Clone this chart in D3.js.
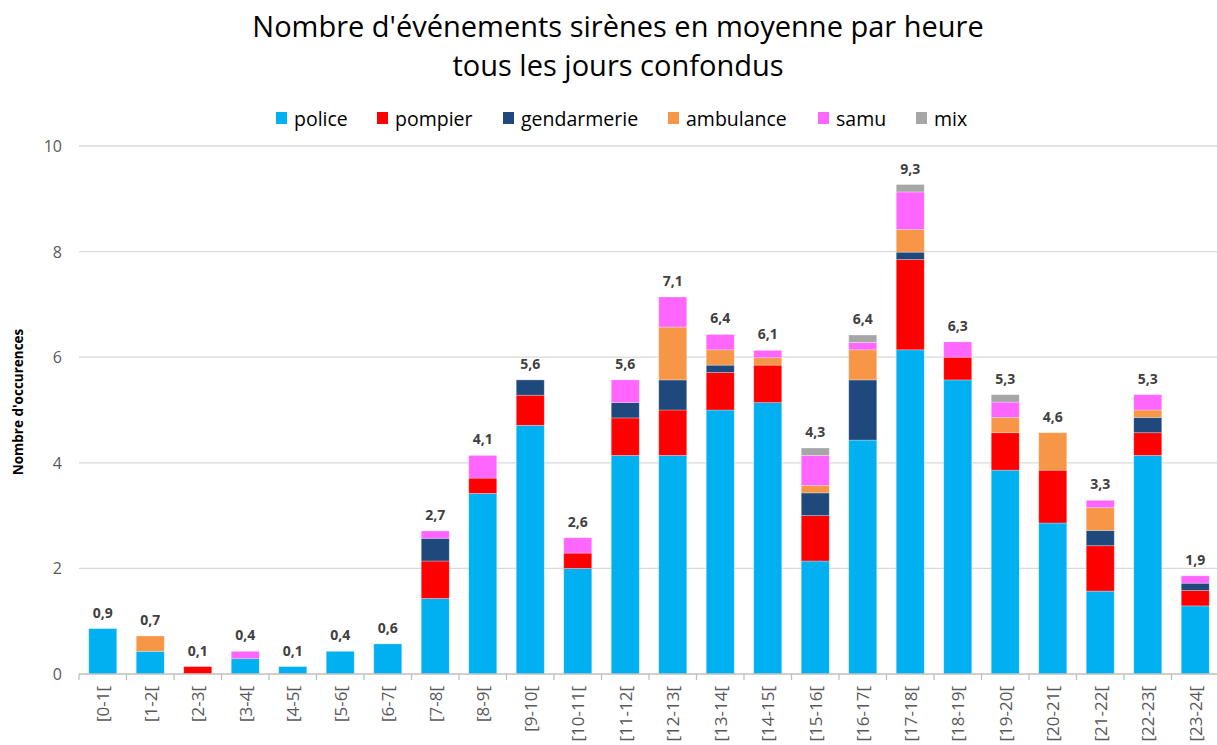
<!DOCTYPE html>
<html>
<head>
<meta charset="utf-8">
<script src="https://cdn.jsdelivr.net/npm/d3@7"></script>
<style>
  body { margin: 0; background: #fff; }
  svg { display: block; }
</style>
</head>
<body>
<div id="chart"></div>
<script>
// Average siren events per hour, all days combined

const hours = ['[0-1[', '[1-2[', '[2-3[', '[3-4[', '[4-5[', '[5-6[', '[6-7[', '[7-8[',
  '[8-9[', '[9-10[', '[10-11[', '[11-12[', '[12-13[', '[13-14[', '[14-15[', '[15-16[',
  '[16-17[', '[17-18[', '[18-19[', '[19-20[', '[20-21[', '[21-22[', '[22-23[', '[23-24['];

const seriesNames = ['police', 'pompier', 'gendarmerie', 'ambulance', 'samu', 'mix'];

const police      = [0.86, 0.43, 0, 0.29, 0.14, 0.43, 0.57, 1.43, 3.42, 4.71, 2.0, 4.14, 4.14, 5.0, 5.14, 2.14, 4.43, 6.14, 5.57, 3.86, 2.86, 1.57, 4.14, 1.29];
const pompier     = [0, 0, 0.14, 0, 0, 0, 0, 0.71, 0.29, 0.57, 0.29, 0.71, 0.86, 0.71, 0.71, 0.86, 0, 1.71, 0.43, 0.71, 1.0, 0.86, 0.43, 0.29];
const gendarmerie = [0, 0, 0, 0, 0, 0, 0, 0.43, 0, 0.29, 0, 0.29, 0.57, 0.14, 0, 0.43, 1.14, 0.14, 0, 0, 0, 0.29, 0.29, 0.14];
const ambulance   = [0, 0.29, 0, 0, 0, 0, 0, 0, 0, 0, 0, 0, 1.0, 0.29, 0.14, 0.14, 0.57, 0.43, 0, 0.29, 0.71, 0.43, 0.14, 0];
const samu        = [0, 0, 0, 0.14, 0, 0, 0, 0.14, 0.43, 0, 0.29, 0.43, 0.57, 0.29, 0.14, 0.57, 0.14, 0.71, 0.29, 0.29, 0, 0.14, 0.29, 0.14];
const mix         = [0, 0, 0, 0, 0, 0, 0, 0, 0, 0, 0, 0, 0, 0, 0, 0.14, 0.14, 0.14, 0, 0.14, 0, 0, 0, 0];

const yTicks = [0, 2, 4, 6, 8, 10];

const COLORS = {
  police:      '#00B0F0',
  pompier:     '#FF0000',
  gendarmerie: '#1F497D',
  ambulance:   '#F79646',
  samu:        '#FF66FF',
  mix:         '#A6A6A6',
};

const FONT = "'Open Sans', sans-serif";
const width = 1217, height = 745;
const margin = { top: 146, right: -2, bottom: 71, left: 79 };

const values = { police, pompier, gendarmerie, ambulance, samu, mix };
const rows = hours.map((h, i) => {
  const r = { hour: h };
  seriesNames.forEach(s => { r[s] = values[s][i]; });
  return r;
});

const stacked = d3.stack().keys(seriesNames)(rows);

const svg = d3.select('#chart').append('svg')
  .attr('width', width)
  .attr('height', height);

const x = d3.scaleBand()
  .domain(hours)
  .range([margin.left, width - margin.right])
  .paddingInner(0.41)
  .paddingOuter(0.205);

const y = d3.scaleLinear()
  .domain([0, 10])
  .range([height - margin.bottom, margin.top]);

// Gridlines
svg.append('g')
  .selectAll('line')
  .data(yTicks.filter(t => t > 0))
  .join('line')
  .attr('x1', margin.left)
  .attr('x2', width)
  .attr('y1', d => y(d))
  .attr('y2', d => y(d))
  .attr('stroke', '#D9D9D9')
  .attr('stroke-width', 1.3);

// Y tick labels
svg.append('g')
  .selectAll('text')
  .data(yTicks)
  .join('text')
  .attr('x', 62)
  .attr('y', d => y(d))
  .attr('text-anchor', 'end')
  .attr('dominant-baseline', 'central')
  .attr('fill', '#595959')
  .attr('font-size', 16)
  .attr('font-family', FONT)
  .text(d => d);

// Y axis title
svg.append('text')
  .attr('transform', `translate(23, 402) rotate(-90)`)
  .attr('text-anchor', 'middle')
  .attr('fill', '#000')
  .attr('font-size', 13.5)
  .attr('font-weight', 'bold')
  .attr('font-family', FONT)
  .text("Nombre d'occurences");

// Bars
svg.append('g')
  .selectAll('g')
  .data(stacked)
  .join('g')
  .attr('fill', d => COLORS[d.key])
  .selectAll('rect')
  .data(d => d.filter(p => p[1] - p[0] > 0))
  .join('rect')
  .attr('x', d => x(d.data.hour))
  .attr('width', x.bandwidth())
  .attr('y', d => y(d[1]))
  .attr('height', d => y(d[0]) - y(d[1]))
  .attr('stroke', '#ffffff')
  .attr('stroke-opacity', 0.35)
  .attr('stroke-width', 0.8);

// Total labels
svg.append('g')
  .selectAll('text')
  .data(rows)
  .join('text')
  .attr('x', d => x(d.hour) + x.bandwidth() / 2)
  .attr('y', d => y(d3.sum(seriesNames, s => d[s])) - 11)
  .attr('text-anchor', 'middle')
  .attr('fill', '#404040')
  .attr('font-size', 14)
  .attr('font-weight', 'bold')
  .attr('font-family', FONT)
  .text(d => d3.sum(seriesNames, s => d[s]).toFixed(1).replace('.', ','));

// X axis
const xAxis = svg.append('g')
  .attr('transform', `translate(0, ${y(0)})`);

xAxis.append('line')
  .attr('x1', margin.left)
  .attr('x2', width)
  .attr('stroke', '#BFBFBF')
  .attr('stroke-width', 1.3);

const step = x.step();
xAxis.selectAll('line.tick')
  .data(d3.range(hours.length + 1))
  .join('line')
  .attr('class', 'tick')
  .attr('x1', i => margin.left + i * step)
  .attr('x2', i => margin.left + i * step)
  .attr('y1', 0)
  .attr('y2', 6)
  .attr('stroke', '#BFBFBF')
  .attr('stroke-width', 1.3);

xAxis.selectAll('text')
  .data(hours)
  .join('text')
  .attr('transform', d => `translate(${x(d) + x.bandwidth() / 2}, 12) rotate(-90)`)
  .attr('text-anchor', 'end')
  .attr('dominant-baseline', 'central')
  .attr('fill', '#595959')
  .attr('font-size', 17)
  .attr('font-family', FONT)
  .text(d => d);

// Title
const title = svg.append('text')
  .attr('text-anchor', 'middle')
  .attr('fill', '#000')
  .attr('font-size', 29)
  .attr('font-family', FONT);
title.append('tspan').attr('x', 618).attr('y', 37).text("Nombre d'événements sirènes en moyenne par heure");
title.append('tspan').attr('x', 618).attr('y', 76).text('tous les jours confondus');

// Legend
const legendX = [276, 377, 503, 668, 818, 916];
const legend = svg.append('g')
  .selectAll('g')
  .data(seriesNames)
  .join('g')
  .attr('transform', (d, i) => `translate(${legendX[i]}, 118)`);

legend.append('rect')
  .attr('x', 0)
  .attr('y', -6)
  .attr('width', 11)
  .attr('height', 12)
  .attr('fill', d => COLORS[d]);

legend.append('text')
  .attr('x', 18)
  .attr('y', 0)
  .attr('dominant-baseline', 'central')
  .attr('fill', '#000')
  .attr('font-size', 19.5)
  .attr('font-family', FONT)
  .text(d => d);
</script>
</body>
</html>
